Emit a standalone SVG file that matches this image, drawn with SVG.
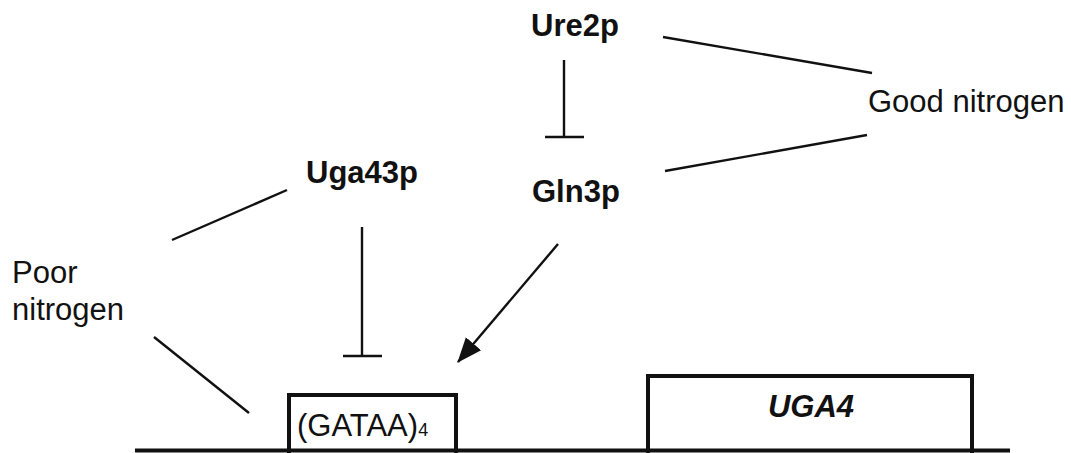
<svg xmlns="http://www.w3.org/2000/svg" width="1071" height="453" viewBox="0 0 1071 453">
<defs>
<style>
.t{font-family:"Liberation Sans",Arial,sans-serif;font-size:31px;fill:#111}
.b{font-weight:bold}
.ln{stroke:#111;stroke-width:2.4;fill:none}
.box{stroke:#111;stroke-width:4;fill:#fff}
</style>
<marker id="arr" markerUnits="userSpaceOnUse" markerWidth="26" markerHeight="22" viewBox="0 0 26 22" refX="24" refY="11" orient="auto">
<path d="M0,1 L25,11 L0,21 Z" fill="#111"/>
</marker>
</defs>
<rect width="1071" height="453" fill="#fff"/>
<g id="connectors">
<line class="ln" x1="564" y1="60" x2="564" y2="137"/>
<line class="ln" x1="545" y1="137" x2="584" y2="137"/>
<line class="ln" x1="663" y1="37" x2="872" y2="73"/>
<line class="ln" x1="665" y1="171" x2="867" y2="135"/>
<line class="ln" x1="172" y1="240" x2="287" y2="190"/>
<line class="ln" x1="362" y1="227" x2="362" y2="356"/>
<line class="ln" x1="343" y1="356" x2="382" y2="356"/>
<line class="ln" x1="154" y1="337" x2="249" y2="413"/>
<line class="ln" x1="558" y1="244" x2="458" y2="362" marker-end="url(#arr)"/>
</g>
<g id="gataa">
<rect class="box" x="289" y="395" width="167" height="60"/>
<text class="t" x="297" y="436">(GATAA)<tspan font-size="18">4</tspan></text>
</g>
<g id="uga4">
<rect class="box" x="648" y="376" width="324" height="80"/>
<text class="t b" x="811" y="417" text-anchor="middle" font-style="italic" font-size="40">UGA4</text>
</g>
<g id="dna">
<line x1="135" y1="450.5" x2="1010" y2="450.5" stroke="#111" stroke-width="4"/>
</g>
<g id="ure2p"><text class="t b" x="531" y="36">Ure2p</text></g>
<g id="gln3p"><text class="t b" x="532" y="202">Gln3p</text></g>
<g id="uga43p"><text class="t b" x="306" y="183">Uga43p</text></g>
<g id="good"><text class="t" x="868" y="112">Good nitrogen</text></g>
<g id="poor"><text class="t" x="12" y="283">Poor</text><text class="t" x="12" y="320">nitrogen</text></g>
</svg>
